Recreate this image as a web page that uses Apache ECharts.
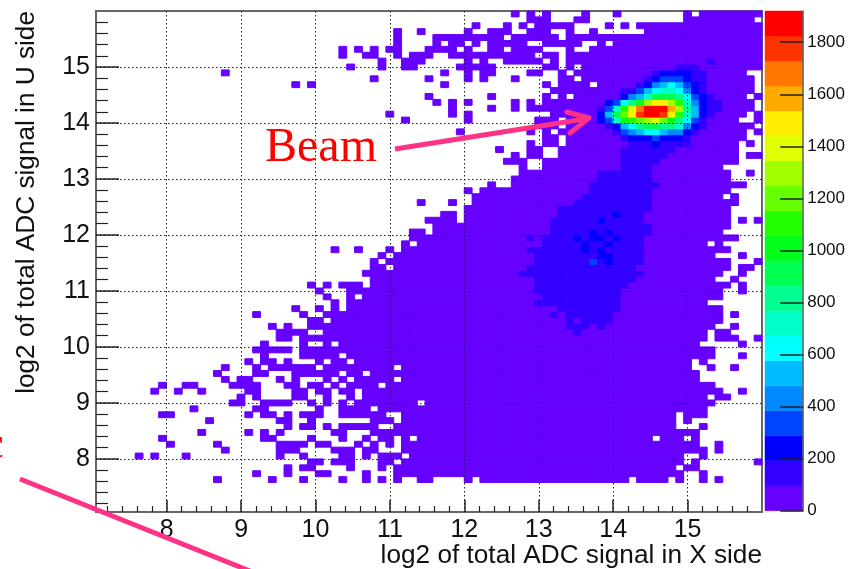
<!DOCTYPE html>
<html><head><meta charset="utf-8">
<style>html,body{margin:0;padding:0;background:#fff}#c{width:848px;height:569px}</style>
<script src="https://cdn.jsdelivr.net/npm/echarts@6/dist/echarts.min.js"></script>
</head><body><div id="c"></div>
<script>
// Histogram lattice: 85 x 85 bins
const axisMin = 7.05, axisMax = 16, binCount = 85;
const xTickLabels = [8,9,10,11,12,13,14,15];
const yTickLabels = [8,9,10,11,12,13,14,15];
const colorbarTicks = [0,200,400,600,800,1000,1200,1400,1600,1800];
const colorbarMax = 1920;
const levelColors = ['#6600ff','#3300ff','#0000ff','#0044ff','#0088ff','#00bbff','#00ffff','#00ffc8','#00ff90','#00ff50',
  '#00ff1a','#22ff00','#66ff00','#a0ff00','#e0ff00','#ffee00','#ffaa00','#ff7700','#ff3300','#ff0000'];
// occupied x bins, per y bin (index 0 = lowest y bin)
const occupiedRows = [
"","","","","",
"15 22 26 31 34 36 38 41-42 47 49-67 69-72 74 77 79",
"20 24 28-29 34 38-74 77",
"24 26-27 32 36 38-73 75-76",
"27-28 30-32 36-37 39-74 76 84",
"5 7 11 23 26 31-32 34 36-38 40-74 77",
"16 23-25 30-32 34-35 39-77 79",
"9 15 23-26 28-29 33 35 37 39-76 79",
"8 21-22 27 31 34 36-37 39 41-70 72-74 76",
"13 19 21 23 30-31 35-76",
"24 26-27 29 31-35 38-73 77",
"14 23-24 27 35-37 39-73 75",
"8-9 19 21-22 24 26-28 31-36 39-73 75-77",
"12 20-21 28 31-34 36-77",
"17-18 21-24 27 29 31 33-40 42-78",
"18 20 25-26 29 32 34-77 79-80",
"7 10 13 19-20 25-26 28-29 31-32 34-79 82",
"8 11-12 17-20 24-25 27-28 30 32-35 37-78",
"16 18-19 23 25 29 31 33-37 39-76",
"15 20-21 25-30 32-33 35-76",
"16 20 22-27 29-37 39-75 78 81",
"19 21-22 24 28 30-31 33-75 77",
"21 26-30 32-78 82",
"20-24 26-78",
"21 26 29 31-76 82",
"23-24 26-77 79-81 84",
"23-26 29-77 79-80",
"22 24 27-78 81",
"27-28 30-79",
"20 26 29-79 81",
"25 28 30 32-79",
"30 32-77",
"29 32 34-79",
"28 32-79 82",
"27 29 31-33 35-80 82",
"35-78 81",
"34-79 82",
"35-36 38-80 82-83",
"35 37-80 84",
"36 38-78 82",
"30 33 37 39-80",
"39 41-77 79",
"40-81",
"40-41 43-79",
"43-80",
"42-45 47-80 82 84",
"44-45 47-80",
"47-80",
"41 45 48-81",
"48-79 81",
"47 49-80",
"50 53-82",
"53-80",
"54-80 83",
"54 57-79",
"52-54 57-81",
"53 55-56 59-81 83-84",
"51 55-56 59-81",
"55 57-58 60-81 83",
"57-58 60-82",
"46 55 57 59-82 84",
"56-58 60-83",
"39 47 56-58 60-81 84",
"37 45 47 58-82 84",
"45 50 53 55-83",
"43 45 47 53 55 57-83",
"42 50 57 59 61-82 84",
"58-83",
"25 27 44 57 59-62 64-83",
"35 42 47 49 53 59-60 62-83",
"16 44 47 49-50 55-56 59 61-82",
"32 36 39-40 46-50 57-58 60 62-84",
"36 39-41 47 49 52-56 58 60-84",
"31 34-35 38 40-42 45-55 57-58 60-84",
"31 33 35 37-38 42-45 47 50-51 53-56 60 63-84",
"38 43 45-46 48 50-54 57-61 64 66-84",
"38 43-51 53-58 60-84",
"38 41 47 50-52 55-57 60 63 70-84",
"48 52 54 56-60 65 67 69-84",
"55-57 61-62 75-83",
"53 55 57 62 66 75 77-84"
];
// [y bin, first x bin, last x bin] of the faint second colour band below the beam spot
const faintBlobRuns = [
[30,61,61],[31,60,62],[31,64,64],[32,60,60],[32,62,65],[33,58,58],[33,60,65],[34,59,66],[35,56,66],[36,57,66],[37,56,66],
[38,56,67],[39,56,68],[40,54,69],[41,55,68],[42,56,69],[43,56,69],[44,55,69],[45,57,69],[46,55,55],[46,57,69],[47,58,70],
[48,58,70],[49,58,69],[50,59,69],[51,59,70],[52,61,70],[53,62,70],[54,63,70],[55,63,71],[56,64,70],[57,64,70],[58,67,70],
[59,67,71],[60,67,72],[61,67,73],[76,78,78]
];
// [y bin, x bin, level] of the darker spots inside that blob
const blobSpots = [
[50,66,2],[49,64,2],[47,63,2],[47,65,2],[46,61,2],[46,63,2],[46,64,2],[46,66,2],[45,62,2],[45,65,2],[44,62,2],[44,64,2],
[43,64,2],[43,65,2],[42,63,3],[42,65,2]
];
// [y bin, first x bin, levels...] of the beam spot
const beamSpot = [
[75,74,1,1,1],
[74,71,1,2,2,2,2,1,1],
[73,70,1,2,3,3,3,2,1,1],
[72,69,1,2,4,5,6,5,3,2,1],
[71,67,1,1,3,5,6,7,7,6,4,2,1],
[70,67,2,4,5,7,9,9,9,8,6,3,2,1],
[69,65,2,3,6,8,10,13,15,15,13,11,7,4,2,1,1],
[68,64,1,3,7,11,14,17,19,19,19,16,13,8,5,2,1,1],
[67,64,2,5,9,12,15,18,19,19,18,15,11,7,5,2,1],
[66,64,2,3,7,10,11,12,13,14,12,10,8,6,3,1],
[65,65,1,2,5,6,8,9,9,8,8,7,4,2,1],
[64,66,1,3,4,5,6,6,5,4,4,2,1],
[63,67,1,2,2,2,3,2,2,2,1],
[62,68,1,1,1,2,1,1,1,1]
];

const binW = (axisMax - axisMin) / binCount;
const bandW = colorbarMax / levelColors.length;
const grid = [];
for (let r = 0; r < binCount; r++) grid.push(new Array(binCount).fill(-1));
occupiedRows.forEach((s, r) => {
  if (!s) return;
  s.split(' ').forEach(t => {
    const p = t.split('-').map(Number);
    const a = p[0], b = p.length > 1 ? p[1] : p[0];
    for (let k = a; k <= b; k++) grid[r][k] = 0;
  });
});
faintBlobRuns.forEach(([r, a, b]) => { for (let k = a; k <= b; k++) grid[r][k] = 1; });
blobSpots.forEach(([r, k, l]) => { grid[r][k] = l; });
beamSpot.forEach(row => { const r = row[0], a = row[1]; row.slice(2).forEach((l, i) => { grid[r][a + i] = l; }); });
const cells = [];
grid.forEach((row, r) => row.forEach((l, k) => {
  if (l >= 0) cells.push([axisMin + k * binW, axisMin + r * binW, (l + 0.5) * bandW]);
}));
const bands = levelColors.map((c, i) => [0, i * bandW, (i + 0.5) * bandW]);

const minorOf = () => {
  const out = [];
  for (let v = 7; v < 16; v++) for (let m = 1; m < 5; m++) out.push(v + m / 5);
  return out;
};
const xMinorTicks = minorOf(), yMinorTicks = minorOf();
const fontFamily = 'Liberation Sans';
const frame = '#666666', tickCol = '#222222';
const chart = echarts.init(document.getElementById('c'), null, {renderer: 'canvas'});
const baseAxis = {type: 'value', min: axisMin, max: axisMax, z: 5, axisLine: {show: false, onZero: false}};
chart.setOption({
  animation: false,
  backgroundColor: '#fff',
  grid: [
    {left: 96, top: 11, width: 666, height: 501, show: true, borderColor: frame, borderWidth: 2, backgroundColor: '#fff'},
    {left: 765, top: 11, width: 38.7, height: 499.7}
  ],
  xAxis: [
    Object.assign({}, baseAxis, {gridIndex: 0, position: 'bottom',
      name: 'log2 of total ADC signal in X side', nameLocation: 'end', nameGap: 0,
      nameTextStyle: {fontFamily, fontSize: 26.2, color: '#111', align: 'right', verticalAlign: 'top', padding: [31, 0, 0, 0]},
      interval: 1,
      axisTick: {show: true, inside: true, length: 12, customValues: xTickLabels, lineStyle: {color: tickCol, width: 1.5}},
      axisLabel: {show: true, customValues: xTickLabels, fontFamily, fontSize: 25, color: '#111', margin: 6, formatter: v => String(v)},
      splitLine: {show: true, lineStyle: {color: '#222', type: [1.5, 2.5], width: 1}}}),
    Object.assign({}, baseAxis, {gridIndex: 0, position: 'bottom',
      axisTick: {show: true, inside: true, length: 6, customValues: xMinorTicks, lineStyle: {color: tickCol, width: 1.2}},
      axisLabel: {show: false}, splitLine: {show: false}}),
    {type: 'value', gridIndex: 1, min: 0, max: 1, show: false}
  ],
  yAxis: [
    Object.assign({}, baseAxis, {gridIndex: 0, position: 'left',
      name: 'log2 of total ADC signal in U side', nameLocation: 'end', nameGap: 0, nameRotate: 90,
      nameTextStyle: {fontFamily, fontSize: 26.2, color: '#111', align: 'right', verticalAlign: 'bottom', padding: [0, 0, 56, 0]},
      interval: 1,
      axisTick: {show: true, inside: true, length: 23, customValues: yTickLabels, lineStyle: {color: tickCol, width: 1.5}},
      axisLabel: {show: true, customValues: yTickLabels, fontFamily, fontSize: 25, color: '#111', margin: 6, formatter: v => String(v)},
      splitLine: {show: true, lineStyle: {color: '#222', type: [1.5, 2.5], width: 1}}}),
    Object.assign({}, baseAxis, {gridIndex: 0, position: 'left',
      axisTick: {show: true, inside: true, length: 12, customValues: yMinorTicks, lineStyle: {color: tickCol, width: 1.2}},
      axisLabel: {show: false}, splitLine: {show: false}}),
    {type: 'value', gridIndex: 1, position: 'right', min: 0, max: colorbarMax, z: 5,
      axisLine: {show: true, onZero: false, lineStyle: {color: frame, width: 1.5}},
      axisTick: {show: true, inside: true, length: 23, customValues: colorbarTicks, lineStyle: {color: tickCol, width: 1.5}},
      axisLabel: {show: true, customValues: colorbarTicks, fontFamily, fontSize: 17, color: '#111', margin: 4, formatter: v => String(v)},
      splitLine: {show: false}}
  ],
  series: [
    {type: 'custom', name: 'counts', xAxisIndex: 0, yAxisIndex: 0, z: 2, silent: true, progressive: 0,
     data: cells, encode: {x: 0, y: 1},
     renderItem: (params, api) => {
       const x = api.value(0), y = api.value(1), v = api.value(2);
       const a = api.coord([x, y]), b = api.coord([x + binW, y + binW]);
       const col = levelColors[Math.min(levelColors.length - 1, Math.floor(v / bandW))];
       return {type: 'rect', shape: {x: a[0], y: b[1], width: b[0] - a[0], height: a[1] - b[1]},
         style: {fill: col, stroke: col, lineWidth: 1}};
     }},
    {type: 'custom', name: 'palette', xAxisIndex: 2, yAxisIndex: 2, z: 2, silent: true, progressive: 0,
     data: bands, encode: {x: 0, y: 1},
     renderItem: (params, api) => {
       const v = api.value(1), mid = api.value(2);
       const a = api.coord([0, v]), b = api.coord([1, v + bandW]);
       const col = levelColors[Math.floor(mid / bandW)];
       return {type: 'rect', shape: {x: a[0], y: b[1], width: b[0] - a[0], height: a[1] - b[1]},
         style: {fill: col, stroke: col, lineWidth: 0.5}};
     }}
  ],
  graphic: [
    {type: 'text', z: 50, x: 265, y: 124, style: {text: 'Beam', fill: '#ff0000', font: '48px "Liberation Serif"'}},
    {type: 'text', z: 50, x: -17, y: 422, style: {text: 'c', fill: '#ff0000', font: '47px "Liberation Serif"'}},
    {type: 'text', z: 50, x: 466, y: -28, style: {text: ',', fill: '#2244aa', font: '30px "Liberation Serif"'}},
    {type: 'polyline', z: 50, shape: {points: [[395, 149], [588, 118.5]]}, style: {stroke: '#ff3385', lineWidth: 5, fill: null}},
    {type: 'polyline', z: 50, shape: {points: [[567, 112], [589, 118], [570, 133]]}, style: {stroke: '#ff3385', lineWidth: 5, lineCap: 'round', lineJoin: 'round', fill: null}},
    {type: 'polyline', z: 50, shape: {points: [[20, 479], [250, 571]]}, style: {stroke: '#ff3385', lineWidth: 5, fill: null}}
  ]
});
</script></body></html>
